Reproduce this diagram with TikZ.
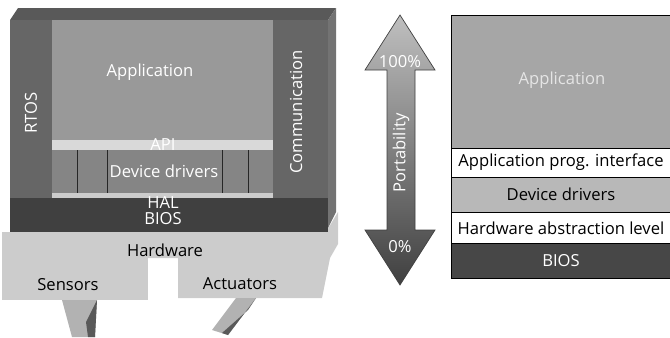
\documentclass[tikz,border=0pt]{standalone}
\usepackage{fontspec}
\setmainfont{Open Sans}
\usepackage{tikz}
\usetikzlibrary{positioning}

\begin{document}
\begin{tikzpicture}[x=0.025cm, y=-0.025cm,
    txt/.style={font=\fontsize{11.8}{13}\selectfont, inner sep=1pt},
    whitetxt/.style={txt, text=white},
    layer/.style={draw=black, line width=0.6pt},
    hwfill/.style={fill=black!20},
    divider/.style={draw=black!85, line width=0.6pt}
]
\useasboundingbox (0,0) rectangle (670,337);

% Hardware base with sensors and actuators
\fill[hwfill] (2,232) -- (326,232) -- (338,212) -- (338,244) -- (330,258) -- (2,258) -- cycle;
\fill[hwfill] (2,258) rectangle (148,300);
\fill[hwfill] (178,258) -- (330,258) -- (322,298) -- (178,298) -- cycle;
\fill[black!30] (62,300) -- (97,300) -- (95,337) -- (72,337) -- cycle;
\fill[black!65] (86,322) -- (97,300) -- (95,337) -- (88,337) -- cycle;
\fill[black!30] (236,298) -- (256,298) -- (228,335) -- (212,330) -- cycle;
\fill[black!65] (248,310) -- (256,298) -- (228,335) -- (222,333) -- cycle;

% Software block (3D)
\fill[black!65] (10,20) -- (18,8) -- (336,8) -- (328,20) -- cycle;
\fill[black!55] (328,20) -- (336,8) -- (336,212) -- (326,232) -- cycle;
\fill[black!60] (10,20) rectangle (328,232);
\fill[black!40] (52,20) rectangle (273,150);
\fill[black!15] (52,140) rectangle (273,150);
\fill[black!48] (52,150) rectangle (273,193);
\fill[black!20] (52,193) rectangle (273,198);
\fill[black!75] (10,198) rectangle (328,232);
\foreach \xx in {77,107,222,248}
  \draw[divider] (\xx,150) -- (\xx,193);

% Portability arrow
\shade[top color=black!25, bottom color=black!75]
  (400,15) -- (435,70) -- (415,70) -- (415,230) -- (435,230) -- (400,285)
  -- (365,230) -- (387,230) -- (387,70) -- (365,70) -- cycle;
\draw[black!75, line width=0.5pt]
  (400,15) -- (435,70) -- (415,70) -- (415,230) -- (435,230) -- (400,285)
  -- (365,230) -- (387,230) -- (387,70) -- (365,70) -- cycle;

% Layer stack
\fill[black!35] (451,15) rectangle (670,148);
\fill[white] (451,148) rectangle (670,177);
\fill[black!28] (451,177) rectangle (670,212);
\fill[white] (451,212) rectangle (670,243);
\fill[black!72] (451,243) rectangle (670,278);
\draw[layer] (451,15) -- (451,278) -- (670,278);
\draw[layer] (451,15) -- (670,15);
\foreach \yy in {148,177,212,243}
  \draw[layer] (451,\yy) -- (670,\yy);

% Nodes
\node[whitetxt] (app) at (150,72) {Application};
\node[whitetxt, rotate=90] (rtos) at (31,113) {RTOS};
\node[whitetxt, rotate=90] (comm) at (296,112) {Communication};
\node[whitetxt] (api) at (163,145) {API};
\node[whitetxt] (drv) at (164,171) {Device drivers};
\node[whitetxt] (hal) at (163,203) {HAL};
\node[whitetxt] (bios) at (163,219) {BIOS};
\node[txt] (hw) at (165,250) {Hardware};
\node[txt] (sens) at (68,285) {Sensors};
\node[txt] (act) at (240,284) {Actuators};

\node[whitetxt] (pct100) at (400,62) {100\%};
\node[whitetxt, rotate=90] (port) at (401,153) {Portability};
\node[whitetxt] (pct0) at (400,247) {0\%};

\node[whitetxt, text=white!80!gray] (sapp) at (562,80) {Application};
\node[txt] (sapi) at (561,162) {Application prog. interface};
\node[txt] (sdrv) at (561,194) {Device drivers};
\node[txt] (shal) at (561,228) {Hardware abstraction level};
\node[whitetxt] (sbios) at (561,261) {BIOS};
\end{tikzpicture}
\end{document}
